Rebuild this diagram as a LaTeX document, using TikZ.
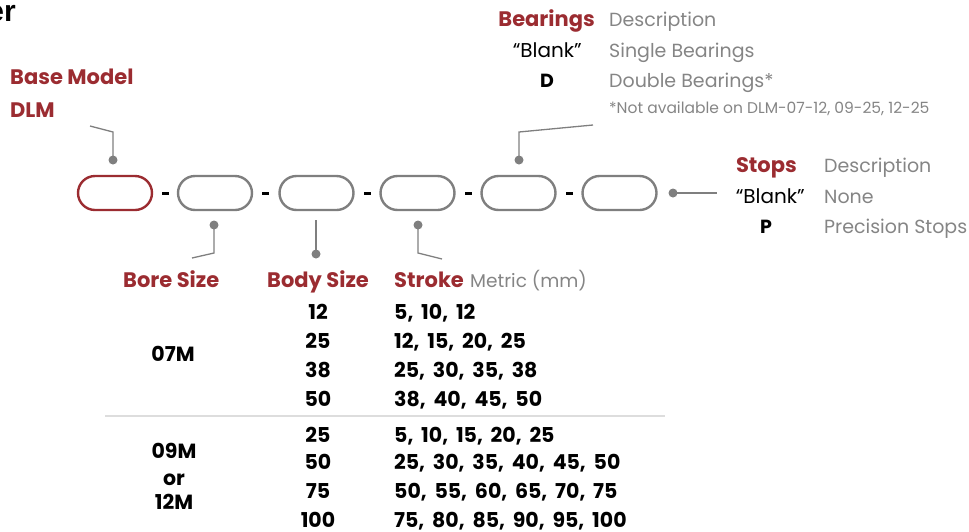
\documentclass[tikz,border=0pt]{standalone}
\usepackage{fontspec}
\setmainfont{Poppins}
\newfontfamily\numfont[Numbers=Monospaced, WordSpace=1.8]{Poppins}
\newfontfamily\erfont{Liberation Sans}
\definecolor{dred}{HTML}{9B2C31}
\definecolor{tgray}{HTML}{858585}
\definecolor{lgray}{HTML}{7F7F7F}
\definecolor{sepgray}{HTML}{DDDDDD}
\tikzset{
  pill/.style={draw=lgray, line width=2.4pt, rounded corners=17pt, minimum width=74pt, minimum height=34pt, inner sep=0pt},
  redpill/.style={pill, draw=dred},
  dashbar/.style={fill=black, minimum width=7pt, minimum height=3pt, inner sep=0pt},
  dotnode/.style={circle, fill=lgray, minimum size=9pt, inner sep=0pt},
  conn/.style={draw=lgray, line width=1.3pt},
  hdr/.style={font=\bfseries\fontsize{21}{24}\selectfont, text=dred, inner sep=0pt},
  desc/.style={font=\fontsize{19}{22}\selectfont, text=tgray, inner sep=0pt},
  code/.style={font=\fontsize{20}{22}\selectfont, text=black, inner sep=0pt},
  bcode/.style={font=\bfseries\fontsize{19}{22}\selectfont, text=black, inner sep=0pt},
  note/.style={font=\fontsize{15.5}{18}\selectfont, text=tgray, inner sep=0pt},
  num/.style={font=\numfont\bfseries\fontsize{20.5}{23}\selectfont, text=black, inner sep=0pt},
}
\begin{document}
\begin{tikzpicture}[x=1pt,y=-1pt]
\useasboundingbox (0,0) rectangle (969,531);
\node[font=\erfont\bfseries\fontsize{30}{32}\selectfont, anchor=base east, inner sep=0pt] (er) at (16,21) {er};

% pills
\node[redpill] (p1) at (115,193) {};
\node[pill] (p2) at (215,193) {};
\node[pill] (p3) at (316.5,193) {};
\node[pill] (p4) at (417.5,193) {};
\node[pill] (p5) at (518.5,193) {};
\node[pill] (p6) at (619.5,193) {};
\node[dashbar] (d1) at (165,193) {};
\node[dashbar] (d2) at (265.5,193) {};
\node[dashbar] (d3) at (367,193) {};
\node[dashbar] (d4) at (468,193) {};
\node[dashbar] (d5) at (569.5,193) {};

% connector points
\coordinate (bmA) at (90,126);
\coordinate (bmB) at (113,132);
\coordinate (bmD) at (113,160);
\coordinate (boD) at (214,225);
\coordinate (boB) at (214,253);
\coordinate (boA) at (192,258);
\coordinate (byA) at (316,220);
\coordinate (byD) at (316,254);
\coordinate (stD) at (418,225);
\coordinate (stB) at (418,253);
\coordinate (stA) at (442,259);
\coordinate (beA) at (593,125);
\coordinate (beB) at (519,132);
\coordinate (beD) at (519,160);
\coordinate (spD) at (673,193);
\coordinate (spA) at (717,193);

\draw[conn] (bmA) -- (bmB) -- (bmD);
\draw[conn] (boA) -- (boB) -- (boD);
\draw[conn] (byA) -- (byD);
\draw[conn] (stA) -- (stB) -- (stD);
\draw[conn] (beA) -- (beB) -- (beD);
\draw[conn] (spD) -- (spA);
\node[dotnode] (bmDot) at (bmD) {};
\node[dotnode] (boDot) at (boD) {};
\node[dotnode] (byDot) at (byD) {};
\node[dotnode] (stDot) at (stD) {};
\node[dotnode] (beDot) at (beD) {};
\node[dotnode] (spDot) at (spD) {};

% base model
\node[hdr, anchor=base west] (bm) at (10,84) {Base Model};
\node[hdr, anchor=base west] (dlm) at (10,117) {DLM};

% bearings
\node[hdr, anchor=base east] (beh) at (595,26) {Bearings};
\node[desc, anchor=base west] (bed) at (609,26) {Description};
\node[code, anchor=base east] (be1c) at (582,57) {“Blank”};
\node[desc, anchor=base west] (be1d) at (609,57) {Single Bearings};
\node[bcode, anchor=base] (be2c) at (547,87) {D};
\node[desc, anchor=base west] (be2d) at (609,87) {Double Bearings*};
\node[note, anchor=base west] (benote) at (609,113) {*Not available on DLM-07-12, 09-25, 12-25};

% stops
\node[hdr, anchor=base east] (sph) at (797,172) {Stops};
\node[desc, anchor=base west] (spd) at (824,172) {Description};
\node[code, anchor=base east] (sp1c) at (805,203) {“Blank”};
\node[desc, anchor=base west] (sp1d) at (824,203) {None};
\node[bcode, anchor=base] (sp2c) at (766,233) {P};
\node[desc, anchor=base west] (sp2d) at (824,233) {Precision Stops};

% table headers
\node[hdr, anchor=base west] (boh) at (123,287) {Bore Size};
\node[hdr, anchor=base west] (byh) at (267,287) {Body Size};
\node[hdr, anchor=base west] (sth) at (394,287) {Stroke};
\node[desc, font=\fontsize{18.5}{21}\selectfont, anchor=base west] (stm) at (470,287) {Metric (mm)};

% table rows
\node[num, anchor=base] (bo1) at (173,361) {07M};
\node[num, anchor=base] (bo2a) at (174,458) {09M};
\node[num, anchor=base] (bo2b) at (174,485) {or};
\node[num, anchor=base] (bo2c) at (174,509) {12M};

\node[num, anchor=base] (b1) at (318,319) {12};
\node[num, anchor=base] (b2) at (318,348) {25};
\node[num, anchor=base] (b3) at (318,377) {38};
\node[num, anchor=base] (b4) at (318,406) {50};
\node[num, anchor=base] (b5) at (318,442) {25};
\node[num, anchor=base] (b6) at (318,469) {50};
\node[num, anchor=base] (b7) at (318,498) {75};
\node[num, anchor=base] (b8) at (318,527) {100};

\node[num, anchor=base west] (s1) at (394,319) {5, 10, 12};
\node[num, anchor=base west] (s2) at (394,348) {12, 15, 20, 25};
\node[num, anchor=base west] (s3) at (394,377) {25, 30, 35, 38};
\node[num, anchor=base west] (s4) at (394,406) {38, 40, 45, 50};
\node[num, anchor=base west] (s5) at (394,442) {5, 10, 15, 20, 25};
\node[num, anchor=base west] (s6) at (394,469) {25, 30, 35, 40, 45, 50};
\node[num, anchor=base west] (s7) at (394,498) {50, 55, 60, 65, 70, 75};
\node[num, anchor=base west] (s8) at (394,527) {75, 80, 85, 90, 95, 100};

\coordinate (sepL) at (105,416);
\coordinate (sepR) at (665,416);
\draw[sepgray, line width=2pt] (sepL) -- (sepR);
\end{tikzpicture}
\end{document}
